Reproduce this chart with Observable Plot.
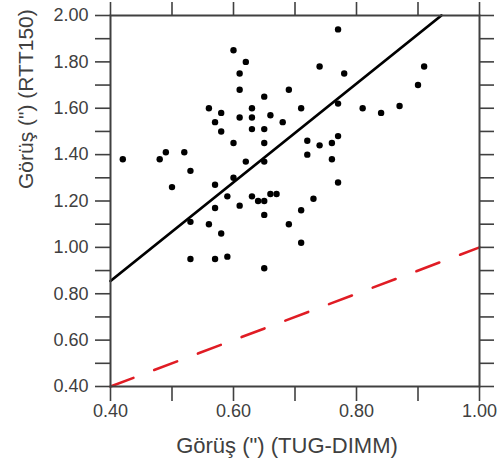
<!DOCTYPE html>
<html><head><meta charset="utf-8">
<script src="https://cdn.jsdelivr.net/npm/d3@7"></script>
<script src="https://cdn.jsdelivr.net/npm/@observablehq/plot@0.6"></script>
<style>
html,body{margin:0;padding:0;background:#fff;}
#chart svg{display:block;}
</style>
</head><body><div id="chart"></div>
<script>
const tugDimm = [0.42,0.48,0.49,0.52,0.53,0.50,0.56,0.58,0.57,0.58,0.60,0.62,0.61,0.61,0.61,0.60,0.62,0.60,0.57,0.59,
  0.63,0.63,0.63,0.65,0.65,0.65,0.65,0.66,0.68,0.69,0.71,0.77,0.74,0.78,0.77,0.81,0.84,0.87,0.90,0.91,
  0.77,0.72,0.74,0.76,0.72,0.76,0.77,0.73,0.71,0.69,0.71,0.63,0.64,0.65,0.66,0.67,0.61,0.57,0.65,0.53,
  0.56,0.58,0.53,0.57,0.59,0.65];
const rtt150 = [1.38,1.38,1.41,1.41,1.33,1.26,1.60,1.58,1.54,1.50,1.85,1.80,1.75,1.68,1.56,1.45,1.37,1.30,1.27,1.22,
  1.60,1.56,1.51,1.65,1.51,1.45,1.37,1.57,1.54,1.68,1.60,1.94,1.78,1.75,1.62,1.60,1.58,1.61,1.70,1.78,
  1.48,1.46,1.44,1.45,1.40,1.38,1.28,1.21,1.16,1.10,1.02,1.22,1.20,1.20,1.23,1.23,1.18,1.17,1.14,1.11,
  1.10,1.06,0.95,0.95,0.96,0.91];
const fitX = [0.40, 0.938];
const fitY = [0.855, 2.00];
const refX = [0.40, 1.00];
const refY = [0.40, 1.00];
const xTicks = [0.4,0.5,0.6,0.7,0.8,0.9,1.0];
const yTicks = [0.4,0.5,0.6,0.7,0.8,0.9,1.0,1.1,1.2,1.3,1.4,1.5,1.6,1.7,1.8,1.9,2.0];
const xLabelValues = [0.4,0.6,0.8,1.0];
const xLabelTexts = ["0.40","0.60","0.80","1.00"];
const yLabelValues = [0.4,0.6,0.8,1.0,1.2,1.4,1.6,1.8,2.0];
const yLabelTexts = ["0.40","0.60","0.80","1.00","1.20","1.40","1.60","1.80","2.00"];
const xTitle = "Görüş (\") (TUG-DIMM)";
const yTitle = "Görüş (\") (RTT150)";

const fmt = (vals, texts) => d => {
  const i = vals.findIndex(v => Math.abs(v - d) < 1e-9);
  return i >= 0 ? texts[i] : "";
};
const axisColor = "#404040";
const font = "'Liberation Sans', Arial, sans-serif";

const chart = Plot.plot({
  width: 500,
  height: 459,
  marginLeft: 110,
  marginRight: 21,
  marginTop: 15,
  marginBottom: 73,
  style: {fontFamily: font, background: "#fff"},
  x: {domain: [0.4, 1.0]},
  y: {domain: [0.4, 2.0]},
  marks: [
    Plot.line(refX, {x: refX, y: refY, stroke: "#e01c24", strokeWidth: 2.6, strokeDasharray: "24.5,22.2"}),
    Plot.line(fitX, {x: fitX, y: fitY, stroke: "#000", strokeWidth: 2.8}),
    Plot.dot(tugDimm, {x: tugDimm, y: rtt150, r: 3.2, fill: "#000", stroke: "none"}),
    Plot.frame({stroke: axisColor, strokeWidth: 2}),
    Plot.axisX({anchor: "bottom", ticks: xTicks, tickSize: 15, tickPadding: 3, tickFormat: fmt(xLabelValues, xLabelTexts), label: null, fontSize: 18, color: axisColor, strokeWidth: 1.6}),
    Plot.axisX({anchor: "top", ticks: xTicks, tickSize: 14, tickFormat: () => "", label: null, color: axisColor, strokeWidth: 1.6}),
    Plot.axisY({anchor: "left", ticks: yTicks, tickSize: 15, tickPadding: 7, tickFormat: fmt(yLabelValues, yLabelTexts), label: null, fontSize: 18, color: axisColor, strokeWidth: 1.6}),
    Plot.axisY({anchor: "right", ticks: yTicks, tickSize: 14, tickFormat: () => "", label: null, color: axisColor, strokeWidth: 1.6}),
    Plot.text([xTitle], {frameAnchor: "bottom", text: d => d, dy: 66, dx: -8, lineAnchor: "bottom", fontSize: 22, fill: axisColor}),
    Plot.text([yTitle], {frameAnchor: "left", text: d => d, rotate: -90, dx: -84, dy: -12, lineAnchor: "middle", fontSize: 21, fill: axisColor})
  ]
});
document.getElementById("chart").appendChild(chart);
</script>
</body></html>
